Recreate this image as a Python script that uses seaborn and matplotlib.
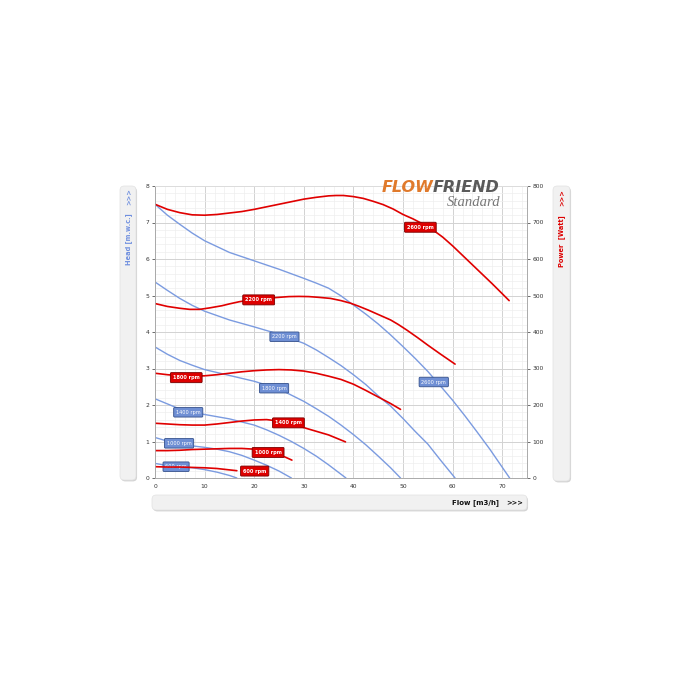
import pandas as pd
import matplotlib
matplotlib.use('Agg')
import matplotlib.pyplot as plt
import seaborn as sns
from matplotlib.patches import FancyBboxPatch
from matplotlib.ticker import MultipleLocator

# ---- data ----
rpm_list = ['600', '1000', '1400', '1800', '2200', '2600']

# head curves (m.w.c.) vs flow (m3/h)
q_h_600 = [0, 2.5, 5, 7.5, 10, 12.5, 15, 16.5]
h_600 = [0.40, 0.34, 0.31, 0.28, 0.23, 0.16, 0.07, 0]
q_h_1000 = [0, 2.5, 5, 7.5, 10, 12.5, 15, 17.5, 20, 22.5, 25, 27.5]
h_1000 = [1.11, 1.01, 0.93, 0.88, 0.84, 0.79, 0.72, 0.62, 0.49, 0.35, 0.19, 0]
q_h_1400 = [0, 2.5, 5, 7.5, 10, 15, 20, 22.5, 25, 27.5, 30, 32.5, 35, 38.5]
h_1400 = [2.17, 2.03, 1.89, 1.81, 1.74, 1.62, 1.45, 1.32, 1.17, 1.00, 0.81, 0.60, 0.36, 0]
q_h_1800 = [0, 2.5, 5, 7.5, 10, 15, 20, 25, 30, 32.5, 35, 37.5, 40, 42.5, 45, 47.5, 49.5]
h_1800 = [3.59, 3.39, 3.22, 3.09, 2.97, 2.81, 2.65, 2.44, 2.10, 1.90, 1.69, 1.45, 1.19, 0.91,
          0.60, 0.28, 0]
q_h_2200 = [0, 2.5, 5, 7.5, 10, 15, 20, 25, 30, 32.5, 35, 37.5, 40, 42.5, 45, 47.5, 50,
            52.5, 55, 57.5, 60.5]
h_2200 = [5.37, 5.14, 4.92, 4.73, 4.57, 4.33, 4.14, 3.94, 3.69, 3.51, 3.30, 3.08, 2.83, 2.56,
          2.25, 1.97, 1.63, 1.27, 0.93, 0.50, 0]
q_h_2600 = [0, 2.5, 5, 7.5, 10, 15, 20, 25, 30, 32.5, 35, 37.5, 40, 42.5, 45, 47.5, 50,
            52.5, 55, 57.5, 60, 62.5, 65, 67.5, 71.5]
h_2600 = [7.5, 7.2, 6.95, 6.71, 6.5, 6.18, 5.95, 5.72, 5.47, 5.34, 5.2, 4.99, 4.74, 4.49,
          4.22, 3.92, 3.6, 3.27, 2.92, 2.53, 2.13, 1.70, 1.25, 0.79, 0]

# power curves (Watt) vs flow (m3/h)
q_p_600 = [0, 2.5, 5, 7.5, 10, 12.5, 14.5, 16.5]
p_600 = [31, 30, 30, 29, 28, 26, 23, 20]
q_p_1000 = [0, 2.5, 5, 7.5, 10, 12.5, 15, 17.5, 20, 21.5, 23, 24.7, 26.3, 27.6]
p_1000 = [75, 75, 76, 78, 79, 80, 81, 81, 79, 75, 70, 64, 57, 49]
q_p_1400 = [0, 2.5, 5, 7.5, 10, 12.5, 15, 17.5, 20, 22.5, 25, 28, 30.5, 32.5, 35, 38.4]
p_1400 = [150, 148, 146, 145, 145, 148, 152, 156, 159, 160, 156, 147, 136, 128, 118, 99]
q_p_1800 = [0, 2.5, 5, 7.5, 10, 12.5, 15, 17.5, 20, 22.5, 25, 27.5, 30, 32.5, 35, 37.5, 40,
            42.5, 45, 47.5, 49.5]
p_1800 = [287, 283, 280, 279, 280, 283, 287, 291, 294, 296, 297, 296, 293, 287, 279, 270, 257,
          240, 222, 204, 188]
q_p_2200 = [0, 2.5, 5, 7, 9, 11, 13.5, 15, 17, 19, 21, 23, 25, 27, 29, 31, 33, 35.4, 37.5,
            39.4, 41, 43, 45, 47.5, 49, 50.8, 53, 55, 57.5, 60.5]
p_2200 = [478, 470, 465, 462, 462, 466, 472, 477, 483, 487, 490, 493, 495, 497, 497.5, 497,
          495, 492, 486, 479, 471, 460, 448, 433, 421, 405, 384, 364, 340, 312]
q_p_2600 = [0, 2.5, 5, 7.5, 10, 12.5, 15, 17.5, 20, 22.5, 25, 27.5, 30, 32.5, 35, 36.5, 38,
            40, 42, 44, 46, 48, 50, 52, 54, 56, 58, 60, 62, 64, 66, 68, 70, 71.4]
p_2600 = [750, 736, 727, 721, 720, 722, 726, 730, 736, 743, 750, 757, 764, 769, 773, 774, 774,
          771, 766, 758, 749, 737, 722, 710, 696, 680, 660, 636, 610, 584, 558, 532, 505, 486]

head_q = [q_h_600, q_h_1000, q_h_1400, q_h_1800, q_h_2200, q_h_2600]
head_v = [h_600, h_1000, h_1400, h_1800, h_2200, h_2600]
pow_q = [q_p_600, q_p_1000, q_p_1400, q_p_1800, q_p_2200, q_p_2600]
pow_v = [p_600, p_1000, p_1400, p_1800, p_2200, p_2600]

head_df = pd.concat([pd.DataFrame({'Flow': q, 'Head': h, 'rpm': r})
                     for q, h, r in zip(head_q, head_v, rpm_list)])
power_df = pd.concat([pd.DataFrame({'Flow': q, 'Power': p, 'rpm': r})
                      for q, p, r in zip(pow_q, pow_v, rpm_list)])

BLUE = '#7b9be0'
RED = '#e00000'

sns.set_theme(style="white")
plt.rcParams['font.family'] = ['DejaVu Sans']

fig = plt.figure(figsize=(7, 7), dpi=100)
ax = fig.add_axes([155 / 700, 1 - 478 / 700, 372 / 700, 292 / 700])
ax2 = ax.twinx()

# grid
ax.set_xlim(0, 75)
ax.set_ylim(0, 8)
ax2.set_ylim(0, 800)
ax.xaxis.set_major_locator(MultipleLocator(10))
ax.xaxis.set_minor_locator(MultipleLocator(2))
ax.yaxis.set_major_locator(MultipleLocator(1))
ax.yaxis.set_minor_locator(MultipleLocator(0.2))
ax2.yaxis.set_major_locator(MultipleLocator(100))
ax.grid(which='major', color='#d2d2d2', lw=0.7)
ax.grid(which='minor', color='#eeeeee', lw=0.5)
ax.set_axisbelow(True)

sns.lineplot(data=head_df, x='Flow', y='Head', hue='rpm', hue_order=rpm_list,
             palette=[BLUE] * 6, estimator=None, sort=False, legend=False,
             lw=1.0, ax=ax)
sns.lineplot(data=power_df, x='Flow', y='Power', hue='rpm', hue_order=rpm_list,
             palette=[RED] * 6, estimator=None, sort=False, legend=False,
             lw=1.2, ax=ax2)

ax.set_xlabel('')
ax.set_ylabel('')
ax2.set_ylabel('')
for a in (ax, ax2):
    a.tick_params(which='major', labelsize=4.3, length=2, width=0.5,
                  colors='#333333', pad=2)
    a.tick_params(which='minor', length=0)
    for s in a.spines.values():
        s.set_color('#aaaaaa')
        s.set_linewidth(0.6)
ax.spines['top'].set_color('#dddddd')
ax2.spines['top'].set_color('#dddddd')

# rpm tags
blue_tags = [(4.25, 0.31), (4.85, 0.95), (6.7, 1.80), (24.0, 2.46), (26.1, 3.87), (56.2, 2.63)]
red_tags = [(20.1, 19), (22.8, 70), (26.9, 151), (6.3, 275), (20.9, 488), (53.5, 687)]
for r, (x, y) in zip(rpm_list, blue_tags):
    ax.text(x, y, f'{r} rpm', fontsize=3.6, color='white', ha='center', va='center',
            zorder=6, bbox=dict(boxstyle='round,pad=0.45,rounding_size=0.2',
                                fc='#6f8fd4', ec='#34508c', lw=0.6))
for r, (x, y) in zip(rpm_list, red_tags):
    ax2.text(x, y, f'{r} rpm', fontsize=3.6, color='white', fontweight='bold',
             ha='center', va='center', zorder=6,
             bbox=dict(boxstyle='round,pad=0.5,rounding_size=0.2',
                       fc='#dd0000', ec='#7a0000', lw=0.6))


# side panels
def panel(x0, y0, x1, y1):
    w, h = (x1 - x0) / 700, (y1 - y0) / 700
    fx, fy = x0 / 700, 1 - y1 / 700
    fig.patches.append(FancyBboxPatch((fx + 0.0015, fy - 0.002), w, h,
                                      boxstyle='round,pad=0,rounding_size=0.006',
                                      transform=fig.transFigure, fc='#d4d4d4', ec='none',
                                      zorder=0))
    fig.patches.append(FancyBboxPatch((fx, fy), w, h,
                                      boxstyle='round,pad=0,rounding_size=0.006',
                                      transform=fig.transFigure, fc='#f1f1f1', ec='#e2e2e2',
                                      lw=0.5, zorder=1))


panel(120, 186, 136, 480)
panel(553, 186, 570, 481)
panel(152, 495, 527, 510)

fig.text(129 / 700, 1 - 239 / 700, 'Head [m.w.c.]', rotation=90, ha='center', va='center',
         fontsize=4.8, fontweight='bold', color='#6f8fdf')
fig.text(129 / 700, 1 - 197 / 700, '>>>', rotation=90, ha='center', va='center',
         fontsize=4.8, fontweight='bold', color='#6f8fdf')
fig.text(562 / 700, 1 - 241 / 700, 'Power  [Watt]', rotation=90, ha='center', va='center',
         fontsize=4.8, fontweight='bold', color='#dd0000')
fig.text(562 / 700, 1 - 198 / 700, '>>>', rotation=90, ha='center', va='center',
         fontsize=4.8, fontweight='bold', color='#dd0000')
fig.text(475 / 700, 1 - 503 / 700, 'Flow [m3/h]', ha='center', va='center',
         fontsize=5, fontweight='bold', color='#111111')
fig.text(515 / 700, 1 - 503 / 700, '>>>', ha='center', va='center',
         fontsize=4.8, fontweight='bold', color='#111111')

# logo
fig.text(433 / 700, 1 - 187 / 700, 'FLOW', ha='right', va='center', fontsize=11.5,
         fontweight='bold', fontstyle='italic', color='#e07a2c', zorder=10)
fig.text(433 / 700, 1 - 187 / 700, 'FRIEND', ha='left', va='center', fontsize=11.5,
         fontweight='bold', fontstyle='italic', color='#5a5a5a', zorder=10)
fig.text(474 / 700, 1 - 203 / 700, 'Standard', ha='center', va='center', fontsize=10.5,
         fontstyle='italic', family='Liberation Serif', color='#777777', zorder=10)

fig.savefig('out.png', dpi=100, facecolor='white')
